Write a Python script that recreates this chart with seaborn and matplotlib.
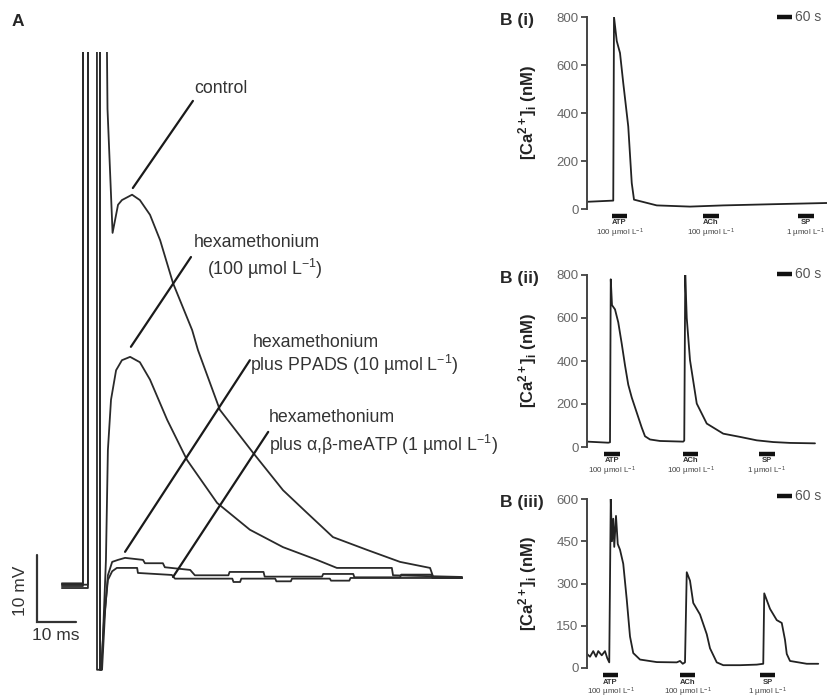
import seaborn as sns
import matplotlib.pyplot as plt

# ---------------- Panel A: synaptic potentials (time in ms, mV relative to rest)
ctrl_t = [-6.7, -1.3, -1.28, 4.6, 5.0, 6.3, 7.7, 8.7, 11.3, 13.3, 15.9,
          18.5, 21.8, 26.7, 28.2, 33.8, 42.3, 50.0, 56.0, 62.8, 71.5, 80.0, 87.7, 88.5, 95.9]
ctrl_v = [-0.8, -0.8, 95, 95, 70, 51.5, 55.7, 56.4, 57.2, 56.4, 54.2,
          50.4, 44.0, 37.0, 34.0, 25.1, 18.7, 13.1, 9.8, 6.1, 4.2, 2.4, 1.5, 0.15, 0.0]

hexa_t = [-6.7, -1.3, -1.28, 3.06, 3.08, 3.4, 3.8, 4.6, 5.1, 5.9, 7.2, 8.7, 10.8, 13.3, 15.9,
          20.3, 25.4, 33.1, 41.5, 50.0, 58.7, 63.8, 77.9, 78.2, 95.9]
hexa_v = [-1.2, -1.2, 95, 95, -13.7, -13.7, -9.3, 2.7, 19.1, 26.6, 31.0, 32.5, 33.0, 32.2, 29.6,
          23.6, 17.6, 11.2, 7.2, 4.6, 2.7, 1.5, 1.5, 0.4, 0.15]

ppads_t = [-6.7, -0.02, 0.0, 3.06, 3.08, 3.6, 4.4, 5.1, 6.2, 7.7, 9.5, 14.1, 14.6, 19.2, 19.7,
           26.2, 27.4, 36.0, 36.3, 45.0, 45.3, 60.0, 60.3, 68.0, 68.3, 80.0, 80.3, 88.0, 88.3, 95.9]
ppads_v = [-1.5, -1.5, 95, 95, -13.7, -13.7, -4.8, 0.4, 2.4, 2.7, 3.0, 2.7, 2.2, 2.2, 1.6,
           1.2, 0.4, 0.4, 0.9, 0.9, 0.2, 0.2, 0.6, 0.6, 0.1, 0.1, 0.5, 0.5, 0.0, 0.0]

meatp_t = [-6.7, -0.02, 0.0, 2.29, 2.31, 3.4, 4.1, 5.1, 6.2, 7.4, 12.6, 12.8, 21.5, 22.3, 37.0,
           37.3, 39.0, 39.3, 48.0, 48.3, 52.0, 52.3, 62.0, 62.3, 67.0, 67.3, 95.9]
meatp_v = [-1.0, -1.0, 95, 95, -13.7, -13.7, -6.3, -0.3, 1.0, 1.5, 1.5, 0.75, 0.45, -0.1, -0.1,
           -0.6, -0.6, -0.1, -0.1, -0.5, -0.5, -0.1, -0.1, -0.4, -0.4, 0.0, 0.0]

# ---------------- Panel B: [Ca2+]i responses (time in s, nM)
bi_t = [0, 105, 108, 119, 132, 145, 165, 179, 188, 279, 412, 545, 745, 959]
bi_ca = [30, 35, 800, 700, 650, 525, 344, 108, 39, 15, 10, 15, 20, 25]

bii_t = [0, 85, 92, 95, 100, 112, 125, 139, 152, 165, 179, 199, 219, 232, 252, 292, 385,
         389, 393, 399, 412, 439, 479, 545, 612, 679, 745, 812, 912]
bii_ca = [25, 20, 22, 780, 660, 640, 580, 480, 380, 290, 230, 160, 90, 50, 35, 28, 25,
          30, 800, 600, 404, 202, 109, 62, 47, 31, 23, 19, 17]

biii_t = [0, 12, 25, 36, 45, 59, 72, 81, 89, 95, 100, 105, 109, 116, 123, 132, 145, 159, 172,
          185, 212, 279, 359, 372, 383, 392, 399, 412, 425, 452, 479, 492, 519, 545, 612, 679,
          705, 709, 732, 759, 779, 792, 799, 812, 879, 925]
biii_ca = [50, 40, 60, 40, 60, 45, 60, 35, 20, 600, 450, 530, 430, 540, 440, 420, 370, 243, 112,
           53, 30, 21, 20, 25, 15, 20, 340, 310, 231, 190, 120, 70, 20, 10, 10, 12,
           15, 265, 210, 170, 160, 100, 50, 25, 15, 15]

stim_names = ["ATP", "ACh", "SP"]
stim_doses = ["100 µmol L$^{-1}$", "100 µmol L$^{-1}$", "1 µmol L$^{-1}$"]
bi_stim_on = [99, 465, 845]
bii_stim_on = [69, 383, 689]
biii_stim_on = [63, 372, 692]
stim_dur = 62

sns.set_style("white")
plt.rcParams['font.family'] = ['Liberation Sans', 'DejaVu Sans']
plt.rcParams['mathtext.fontset'] = 'custom'
plt.rcParams['mathtext.rm'] = 'Liberation Sans'
plt.rcParams['mathtext.it'] = 'Liberation Sans:italic'
plt.rcParams['mathtext.bf'] = 'Liberation Sans:bold'

W, H = 829, 700
fig = plt.figure(figsize=(W / 100, H / 100), dpi=100)


def px_axes(x0, y0, x1, y1):
    return fig.add_axes([x0 / W, 1 - y1 / H, (x1 - x0) / W, (y1 - y0) / H])


# ---- panel A
axA = px_axes(0, 52, 480, 690)
for t, v in [(ctrl_t, ctrl_v), (hexa_t, hexa_v), (ppads_t, ppads_v), (meatp_t, meatp_v)]:
    sns.lineplot(x=t, y=v, ax=axA, color='#2a2a2a', lw=1.3, sort=False, estimator=None)
axA.set_xlim(-22.56, 100.5)
axA.set_ylim(-16.72, 78.5)
axA.axis('off')

# scale bars
axA.plot([-13.08, -13.08, -3.08], [3.43, -6.57, -6.57], color='#333333', lw=1.6,
         solid_joinstyle='miter')
axA.text(-17.4, -1.9, '10 mV', rotation=90, ha='center', va='center', fontsize=12.5, color='#333333')
axA.text(-8.3, -8.6, '10 ms', ha='center', va='center', fontsize=12.5, color='#333333')

# pointer lines + labels
pointers = [([11.5, 26.9], [58.2, 71.2]), ([11.0, 26.4], [34.5, 47.9]),
            ([9.5, 41.5], [3.9, 32.5]), ([21.8, 46.2], [0.15, 21.8])]
for xs, ys in pointers:
    axA.plot(xs, ys, color='#1a1a1a', lw=1.6, clip_on=False)

labels = [(27.2, 73.0, 'control'),
          (27.2, 50.1, 'hexamethonium'),
          (30.5, 46.1, '(100 µmol L$^{-1}$)'),
          (42.3, 35.2, 'hexamethonium'),
          (41.5, 31.8, 'plus PPADS (10 µmol L$^{-1}$)'),
          (46.4, 23.9, 'hexamethonium'),
          (46.4, 19.9, 'plus α,β-meATP (1 µmol L$^{-1}$)')]
for x, y, s in labels:
    axA.text(x, y, s, ha='left', va='center', fontsize=12.8, color='#333333', clip_on=False)

fig.text(12 / W, 1 - 22 / H, 'A', fontsize=12.5, fontweight='bold', va='center', ha='left')

# ---- panel B
b_panels = [
    ('B (i)', (587, 17, 827, 209), bi_t, bi_ca, bi_stim_on, 800, 200, 1.0),
    ('B (ii)', (587, 275, 827, 447), bii_t, bii_ca, bii_stim_on, 800, 200, 1.005),
    ('B (iii)', (587, 499, 827, 668), biii_t, biii_ca, biii_stim_on, 600, 150, 1.018),
]
for name, (x0, y0, x1, y1), t, ca, stim_on, ymax, ystep, bar_y in b_panels:
    ax = px_axes(x0, y0, x1, y1)
    sns.lineplot(x=t, y=ca, ax=ax, color='#222222', lw=1.3, sort=False, estimator=None)
    ax.set_xlim(0, 960)
    ax.set_ylim(0, ymax)
    ax.set_yticks(range(0, ymax + 1, ystep))
    ax.set_xticks([])
    for side in ['top', 'right', 'bottom']:
        ax.spines[side].set_visible(False)
    ax.spines['left'].set_color('#444444')
    ax.spines['left'].set_linewidth(1.4)
    ax.tick_params(axis='y', direction='out', length=4, width=1.3, color='#444444',
                   labelcolor='#666666', labelsize=9.5, pad=2, left=True)
    ax.set_ylabel(r'[Ca$^{\mathbf{2+}}$]$_{\mathbf{i}}$ (nM)', fontweight='bold', fontsize=12,
                  color='#222222')
    ax.yaxis.set_label_coords(-0.2, 0.5)
    ax.patch.set_alpha(0)

    trans = ax.get_xaxis_transform()
    h = y1 - y0
    for on, nm, dose in zip(stim_on, stim_names, stim_doses):
        ax.plot([on, on + stim_dur], [-6.5 / h, -6.5 / h], transform=trans, color='#111111',
                lw=3.2, solid_capstyle='butt', clip_on=False)
        ax.text(on + stim_dur / 2, -14 / h, nm, transform=trans, ha='center', va='center',
                fontsize=5.5, fontweight='bold', color='#333333')
        ax.text(on + stim_dur / 2, -24.5 / h, dose, transform=trans, ha='center', va='center',
                fontsize=5.8, color='#444444')

    # 60 s time scale bar
    ax.plot([760, 820], [bar_y, bar_y], transform=trans, color='#111111', lw=3.2,
            solid_capstyle='butt', clip_on=False)
    ax.text(832, bar_y, '60 s', transform=trans, ha='left', va='center', fontsize=10,
            color='#555555')

    fig.text(500 / W, 1 - (y0 + 3) / H, name, fontsize=12.5, fontweight='bold',
             va='center', ha='left')

fig.savefig('out.png', dpi=100)
